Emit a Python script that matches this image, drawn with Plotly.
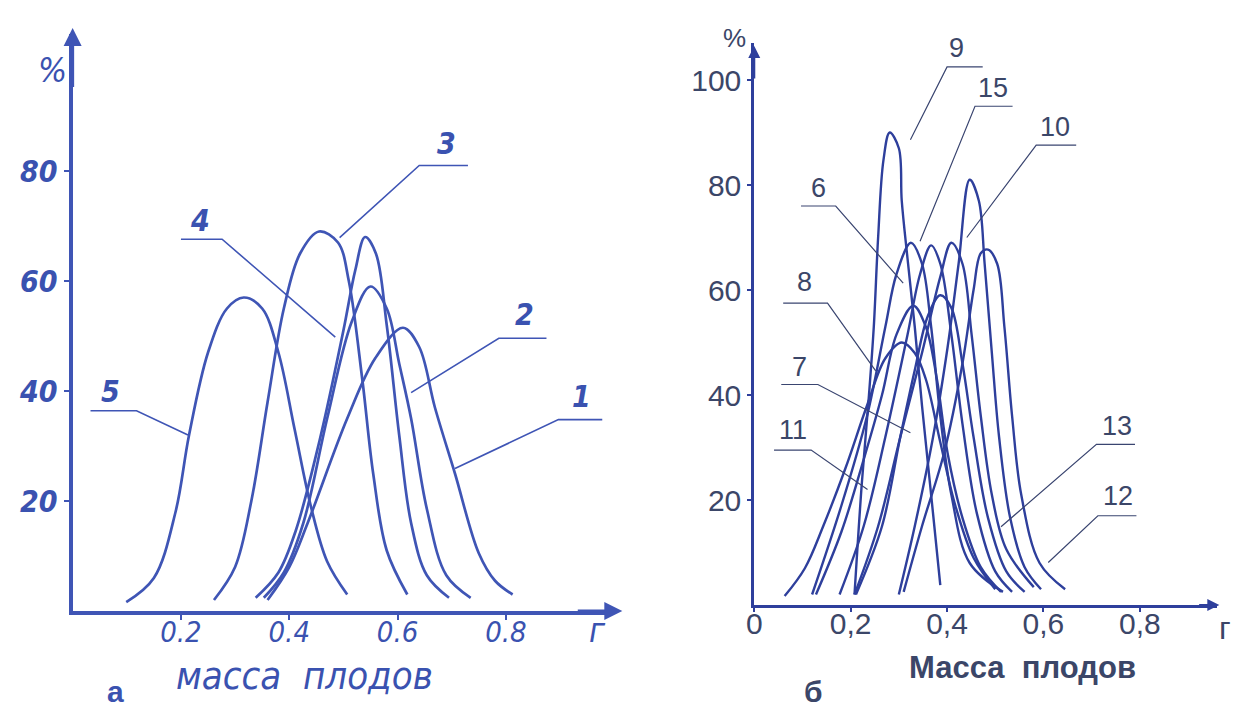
import plotly.graph_objects as go

# ---------------- Panel "а": fruit-mass distributions, curves 1-5 ----------------
A1_X = [0.36, 0.40, 0.434, 0.507, 0.559, 0.61, 0.64, 0.669, 0.706, 0.75, 0.78, 0.8125]
A1_Y = [2, 8, 16, 35, 46, 51.5, 48, 37, 25, 10.5, 5.5, 3]
A2_X = [0.353, 0.39, 0.426, 0.47, 0.515, 0.55, 0.58, 0.603, 0.625, 0.654, 0.69, 0.735]
A2_Y = [2.4, 7, 16, 35, 52.5, 59, 55, 45, 35, 18.6, 6.5, 2.4]
A3_X = [0.261, 0.30, 0.33, 0.36, 0.39, 0.42, 0.455, 0.49, 0.51, 0.535, 0.555, 0.58, 0.618]
A3_Y = [2, 8, 20, 38, 55, 65, 69, 67, 60, 42, 25, 11, 3]
A4_X = [0.338, 0.38, 0.412, 0.456, 0.50, 0.522, 0.54, 0.56, 0.58, 0.603, 0.625, 0.654, 0.695]
A4_Y = [2.4, 7, 14.6, 31, 51, 62, 68, 65, 52, 32, 16, 6.5, 2.4]
A5_X = [0.099, 0.15, 0.19, 0.215, 0.25, 0.285, 0.316, 0.35, 0.38, 0.41, 0.44, 0.47, 0.507]
A5_Y = [1.6, 6, 18, 32, 47, 55, 57, 55, 47, 33, 19, 9, 3]

A_XTICKS = [0.2, 0.4, 0.6, 0.8]
A_XTICKTEXT = ["0.2", "0.4", "0.6", "0.8"]
A_YTICKS = [20, 40, 60, 80]
A_YTICKTEXT = ["20", "40", "60", "80"]

# ---------------- Panel "б": curves 6-13, 15 ----------------
B6_X = [0.12, 0.181, 0.234, 0.272, 0.295, 0.325, 0.348, 0.367, 0.386, 0.409, 0.447, 0.516]
B6_Y = [2, 19, 36, 53, 63, 69, 65, 53, 36, 21, 8, 2.5]
B7_X = [0.211, 0.265, 0.303, 0.333, 0.36, 0.386, 0.409, 0.432, 0.455, 0.485, 0.523, 0.561]
B7_Y = [2, 15, 32, 44.7, 55, 59, 56.6, 46, 32, 16.6, 6.4, 2.5]
B8_X = [0.128, 0.181, 0.227, 0.265, 0.295, 0.33, 0.356, 0.379, 0.401, 0.432, 0.47, 0.512]
B8_Y = [2, 14, 27.7, 40, 51.5, 57, 53, 43, 29, 16.6, 7.2, 2.5]
B9_X = [0.208, 0.223, 0.238, 0.248, 0.257, 0.268, 0.281, 0.30, 0.306, 0.318, 0.333, 0.348, 0.367, 0.386]
B9_Y = [2, 23, 40, 53, 70, 84.7, 90, 87, 77, 66, 53, 38, 21, 3.8]
B10_X = [0.30, 0.333, 0.371, 0.401, 0.424, 0.447, 0.466, 0.478, 0.493, 0.508, 0.531, 0.561, 0.595]
B10_Y = [2, 15, 32, 49, 65, 81, 77, 65, 48, 32, 16.6, 7.2, 3]
B11_X = [0.063, 0.105, 0.143, 0.189, 0.234, 0.272, 0.306, 0.333, 0.356, 0.386, 0.417, 0.455, 0.50]
B11_Y = [1.7, 7, 15, 26, 38, 47, 50, 48, 43, 31, 19, 9, 3]
B12_X = [0.31, 0.348, 0.394, 0.432, 0.455, 0.47, 0.485, 0.504, 0.519, 0.535, 0.554, 0.592, 0.645]
B12_Y = [2.5, 15, 29, 46, 60, 67, 67.7, 65, 53, 36, 21, 8, 3]
B13_X = [0.208, 0.257, 0.303, 0.348, 0.386, 0.409, 0.432, 0.451, 0.47, 0.493, 0.523, 0.58]
B13_Y = [2, 15, 32, 48, 62.5, 69, 65, 51.5, 36, 21, 10.6, 3.4]
B15_X = [0.177, 0.227, 0.272, 0.318, 0.344, 0.367, 0.386, 0.409, 0.432, 0.462, 0.50, 0.535]
B15_Y = [2, 15, 32, 51.5, 63, 68.5, 65, 51.5, 34.5, 17.4, 6.4, 2.5]

B_XTICKS = [0, 0.2, 0.4, 0.6, 0.8]
B_XTICKTEXT = ["0", "0,2", "0,4", "0,6", "0,8"]
B_YTICKS = [20, 40, 60, 80, 100]
B_YTICKTEXT = ["20", "40", "60", "80", "100"]

# curve number labels: (text, text x, text y, leader polyline xs, ys)
A_LABELS = [
    ("5", 0.07, 40, [0.033, 0.118, 0.213], [36.4, 36.4, 32]),
    ("4", 0.235, 71, [0.20, 0.276, 0.485], [67.6, 67.6, 49.8]),
    ("3", 0.69, 85, [0.73, 0.64, 0.493], [81, 81, 67.9]),
    ("2", 0.835, 54, [0.875, 0.787, 0.625], [49.6, 49.6, 39.7]),
    ("1", 0.94, 39, [0.978, 0.897, 0.706], [34.8, 34.8, 25.9]),
]
B_LABELS = [
    ("9", 0.42, 106, [0.474, 0.40, 0.324], [102.5, 102.5, 88.6]),
    ("15", 0.495, 98.5, [0.536, 0.458, 0.344], [95, 95, 69.3]),
    ("10", 0.625, 91, [0.668, 0.585, 0.441], [87.6, 87.6, 70]),
    ("6", 0.133, 79.5, [0.097, 0.169, 0.309], [76, 76, 61.3]),
    ("8", 0.105, 61.5, [0.06, 0.152, 0.252], [57.5, 57.5, 44.6]),
    ("7", 0.094, 45.3, [0.056, 0.132, 0.324], [42, 42, 32.8]),
    ("11", 0.08, 33.3, [0.041, 0.118, 0.235], [29.5, 29.5, 22]),
    ("13", 0.752, 34, [0.79, 0.71, 0.512], [30.6, 30.6, 14.9]),
    ("12", 0.755, 20.8, [0.793, 0.713, 0.61], [17, 17, 8.1]),
]

A_CURVES = [("1", A1_X, A1_Y), ("2", A2_X, A2_Y), ("3", A3_X, A3_Y),
            ("4", A4_X, A4_Y), ("5", A5_X, A5_Y)]
B_CURVES = [("6", B6_X, B6_Y), ("7", B7_X, B7_Y), ("8", B8_X, B8_Y),
            ("9", B9_X, B9_Y), ("10", B10_X, B10_Y), ("11", B11_X, B11_Y),
            ("12", B12_X, B12_Y), ("13", B13_X, B13_Y), ("15", B15_X, B15_Y)]

W, H = 1258, 706
A_COL = "#3f55b5"
A_TXT = "#3a52b0"
B_COL = "#2e3f9c"
B_TXT = "#3b4668"
HAND = "Liberation Sans Narrow, DejaVu Sans Condensed, DejaVu Sans"
SANS = "Liberation Sans, Arial, sans-serif"


def paper(xp, yp):
    """pixel position on the 1258x706 page -> paper fraction"""
    return xp / W, 1 - yp / H


fig = go.Figure()

for name, xs, ys in A_CURVES:
    fig.add_trace(go.Scatter(x=xs, y=ys, mode="lines", name=name,
                             line=dict(color=A_COL, width=2.7, shape="spline", smoothing=1.0),
                             xaxis="x", yaxis="y", showlegend=False, hoverinfo="skip"))
for name, xs, ys in B_CURVES:
    fig.add_trace(go.Scatter(x=xs, y=ys, mode="lines", name=name,
                             line=dict(color=B_COL, width=2.4, shape="spline", smoothing=1.0),
                             xaxis="x2", yaxis="y2", showlegend=False, hoverinfo="skip"))

for txt, tx, ty, lx, ly in A_LABELS:
    fig.add_trace(go.Scatter(x=lx, y=ly, mode="lines", line=dict(color=A_COL, width=1.6),
                             xaxis="x", yaxis="y", showlegend=False, hoverinfo="skip",
                             cliponaxis=False))
    fig.add_annotation(x=tx, y=ty, xref="x", yref="y", text=txt, showarrow=False,
                       font=dict(family=HAND, size=30, color=A_TXT, style="italic", weight="bold"))
for txt, tx, ty, lx, ly in B_LABELS:
    fig.add_trace(go.Scatter(x=lx, y=ly, mode="lines", line=dict(color="#3a4570", width=1.2),
                             xaxis="x2", yaxis="y2", showlegend=False, hoverinfo="skip",
                             cliponaxis=False))
    fig.add_annotation(x=tx, y=ty, xref="x2", yref="y2", text=txt, showarrow=False,
                       font=dict(family=SANS, size=27, color=B_TXT))

# axis arrows
fig.add_annotation(x=1.015, y=0, ax=0.93, ay=0, xref="x", yref="y", axref="x", ayref="y",
                   text="", showarrow=True, arrowhead=2, arrowsize=1.2, arrowwidth=3, arrowcolor=A_COL)
fig.add_annotation(x=0, y=106, ax=0, ay=95, xref="x", yref="y", axref="x", ayref="y",
                   text="", showarrow=True, arrowhead=2, arrowsize=1.2, arrowwidth=3, arrowcolor=A_COL)
fig.add_annotation(x=0.965, y=0, ax=0.92, ay=0, xref="x2", yref="y2", axref="x2", ayref="y2",
                   text="", showarrow=True, arrowhead=2, arrowsize=1.2, arrowwidth=2, arrowcolor=B_COL)
fig.add_annotation(x=0, y=106.5, ax=0, ay=100, xref="x2", yref="y2", axref="x2", ayref="y2",
                   text="", showarrow=True, arrowhead=2, arrowsize=1.2, arrowwidth=2, arrowcolor=B_COL)

# free texts (paper coordinates)
hand_font = dict(family=HAND, color=A_TXT, style="italic")
TEXTS = [
    ("%", 37, 62, dict(size=34, **hand_font)),
    ("г", 585, 622, dict(size=34, **hand_font)),
    ("масса  плодов", 290, 668, dict(size=38, **hand_font)),
    ("а", 100, 683, dict(family=SANS, size=30, color=A_TXT, weight="bold")),
    ("%", 723, 30, dict(family=SANS, size=26, color=B_TXT)),
    ("г", 1217, 620, dict(family=SANS, size=32, color=B_TXT)),
    ("Масса  плодов", 1013, 659, dict(family=SANS, size=31, color=B_TXT, weight="bold")),
    ("б", 803, 683, dict(family=SANS, size=30, color=B_TXT, weight="bold")),
]
for txt, xp, yp, f in TEXTS:
    px_, py_ = paper(xp, yp)
    fig.add_annotation(x=px_, y=py_, xref="paper", yref="paper", text=txt,
                       showarrow=False, font=f, xanchor="center", yanchor="middle")

fig.update_layout(
    width=W, height=H,
    margin=dict(l=0, r=0, t=0, b=0),
    paper_bgcolor="#ffffff", plot_bgcolor="#ffffff",
    showlegend=False,
    xaxis=dict(domain=[57 / W, 602 / W], range=[0, 1.0], anchor="y",
               tickvals=A_XTICKS, ticktext=A_XTICKTEXT, showgrid=False, zeroline=False,
               showline=True, linecolor=A_COL, linewidth=4, ticks="outside", ticklen=5,
               tickcolor=A_COL, tickwidth=2, ticklabelstandoff=-13,
               tickfont=dict(family=HAND, size=29, color=A_TXT, style="italic")),
    yaxis=dict(domain=[(H - 603) / H, (H - 25.5) / H], range=[0, 105], anchor="x",
               tickvals=A_YTICKS, ticktext=A_YTICKTEXT, showgrid=False, zeroline=False,
               showline=True, linecolor=A_COL, linewidth=4, ticks="outside", ticklen=5,
               tickcolor=A_COL, tickwidth=2,
               tickfont=dict(family=HAND, size=30, color=A_TXT, style="italic", weight="bold")),
    xaxis2=dict(domain=[743 / W, 1208.6 / W], range=[0, 0.96], anchor="y2",
                tickvals=B_XTICKS, ticktext=B_XTICKTEXT, showgrid=False, zeroline=False,
                showline=True, linecolor=B_COL, linewidth=3, ticks="outside", ticklen=4,
                tickcolor=B_COL, tickwidth=1.5, ticklabelstandoff=-14,
                tickfont=dict(family=SANS, size=30, color=B_TXT)),
    yaxis2=dict(domain=[(H - 597) / H, (H - 35.25) / H], range=[0, 107], anchor="x2",
                tickvals=B_YTICKS, ticktext=B_YTICKTEXT, showgrid=False, zeroline=False,
                showline=True, linecolor=B_COL, linewidth=3, ticks="outside", ticklen=4,
                tickcolor=B_COL, tickwidth=1.5,
                tickfont=dict(family=SANS, size=30, color=B_TXT)),
)

fig.write_html("out.html")
